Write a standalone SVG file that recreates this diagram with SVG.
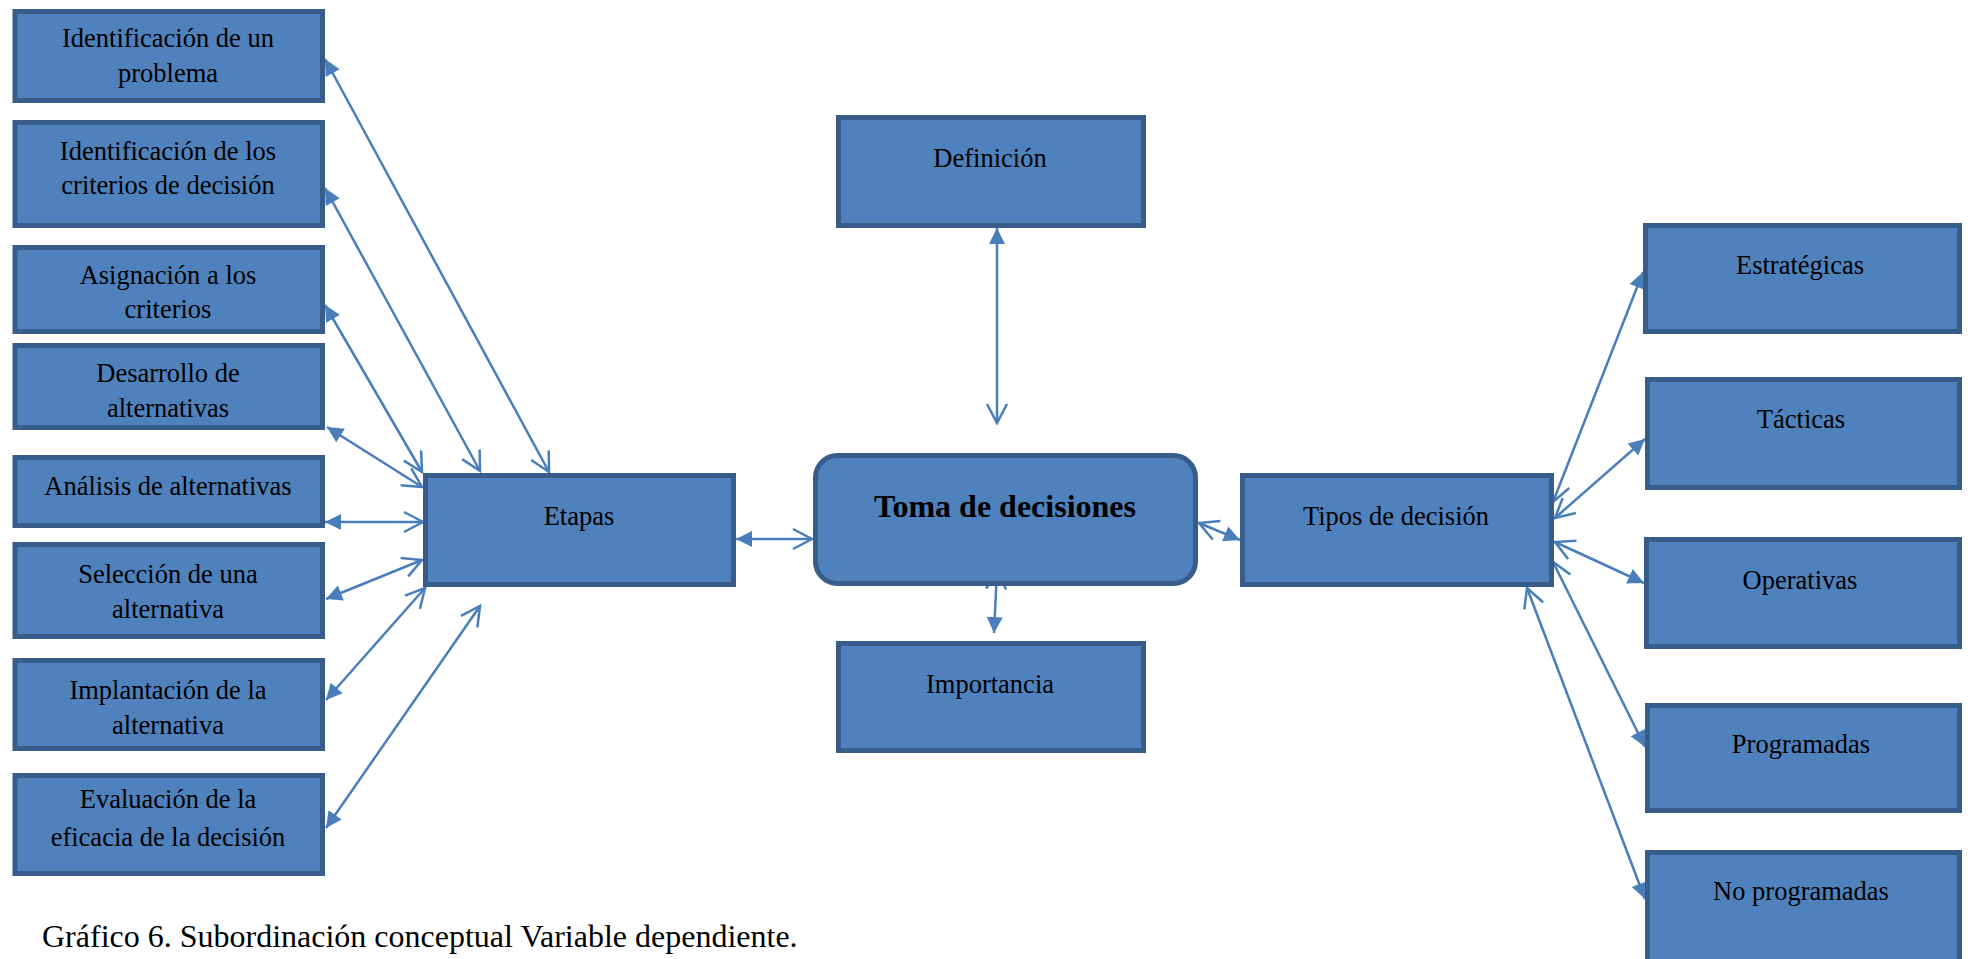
<svg xmlns="http://www.w3.org/2000/svg" width="1968" height="959" viewBox="0 0 1968 959">
<style>
.box{fill:#4F81BD;stroke:#385D8A;stroke-width:5}
text{font-family:"Liberation Serif","Times New Roman","DejaVu Serif",serif;fill:#000}
.t{font-size:26.5px;text-anchor:middle}
.tb{font-size:32px;font-weight:bold;text-anchor:middle}
.cap{font-size:32px}
.c{fill:none;stroke:#4A7EBB;stroke-width:2.5;marker-start:url(#fs);marker-end:url(#oe)}
</style>
<defs>
<marker id="fs" markerUnits="userSpaceOnUse" orient="auto" refX="0" refY="0" markerWidth="40" markerHeight="40" viewBox="-20 -20 40 40" overflow="visible">
<path d="M0,0 L16,-8 L16,8 Z" fill="#4A7EBB"/>
</marker>
<marker id="oe" markerUnits="userSpaceOnUse" orient="auto" refX="0" refY="0" markerWidth="40" markerHeight="40" viewBox="-20 -20 40 40" overflow="visible">
<path d="M-19,-10 L0,0 L-19,10" fill="none" stroke="#4A7EBB" stroke-width="2.5"/>
</marker>
</defs>
<rect width="1968" height="959" fill="#fff"/>
<g id="connectors">
<line class="c" x1="325" y1="59" x2="549" y2="472"/>
<line class="c" x1="325" y1="188" x2="480" y2="471"/>
<line class="c" x1="325" y1="305" x2="422" y2="472"/>
<line class="c" x1="327" y1="427" x2="422" y2="487"/>
<line class="c" x1="325" y1="522" x2="423" y2="522"/>
<line class="c" x1="326" y1="599" x2="422" y2="560"/>
<line class="c" x1="326" y1="700" x2="425" y2="588"/>
<line class="c" x1="326" y1="828" x2="480" y2="606"/>
<line class="c" x1="736" y1="539" x2="812" y2="539"/>
<line class="c" x1="997" y1="228" x2="997" y2="423"/>
<line class="c" x1="994" y1="633" x2="997" y2="570"/>
<line class="c" x1="1240" y1="540" x2="1199" y2="523"/>
<line class="c" x1="1643" y1="272" x2="1553" y2="502"/>
<line class="c" x1="1645" y1="439" x2="1555" y2="518"/>
<line class="c" x1="1644" y1="583" x2="1555" y2="542"/>
<line class="c" x1="1645" y1="747" x2="1553" y2="562"/>
<line class="c" x1="1645" y1="899" x2="1527" y2="588"/>
</g>
<g id="n1"><rect class="box" x="15" y="11.5" width="307.5" height="89"/><text class="t" x="168" y="47">Identificación de un</text><text class="t" x="168" y="82">problema</text></g>
<g id="n2"><rect class="box" x="15" y="122.5" width="307.5" height="103"/><text class="t" x="168" y="160">Identificación de los</text><text class="t" x="168" y="194">criterios de decisión</text></g>
<g id="n3"><rect class="box" x="15" y="247.5" width="307.5" height="84"/><text class="t" x="168" y="284">Asignación a los</text><text class="t" x="168" y="318">criterios</text></g>
<g id="n4"><rect class="box" x="15" y="345.5" width="307.5" height="82"/><text class="t" x="168" y="382">Desarrollo de</text><text class="t" x="168" y="417">alternativas</text></g>
<g id="n5"><rect class="box" x="15" y="457.5" width="307.5" height="68"/><text class="t" x="168" y="495">Análisis de alternativas</text></g>
<g id="n6"><rect class="box" x="15" y="544.5" width="307.5" height="92"/><text class="t" x="168" y="583">Selección de una</text><text class="t" x="168" y="618">alternativa</text></g>
<g id="n7"><rect class="box" x="15" y="660.5" width="307.5" height="88"/><text class="t" x="168" y="699">Implantación de la</text><text class="t" x="168" y="734">alternativa</text></g>
<g id="n8"><rect class="box" x="15" y="775.5" width="307.5" height="98"/><text class="t" x="168" y="808">Evaluación de la</text><text class="t" x="168" y="846">eficacia de la decisión</text></g>
<g id="etapas"><rect class="box" x="425.5" y="475.5" width="308" height="109"/><text class="t" x="579" y="525">Etapas</text></g>
<g id="definicion"><rect class="box" x="838.5" y="117.5" width="305" height="108"/><text class="t" x="990" y="167">Definición</text></g>
<g id="toma"><rect class="box" x="815.5" y="455.5" width="380" height="128" rx="22"/><text class="tb" x="1005" y="517">Toma de decisiones</text></g>
<g id="importancia"><rect class="box" x="838.5" y="643.5" width="305" height="107"/><text class="t" x="990" y="693">Importancia</text></g>
<g id="tipos"><rect class="box" x="1242.5" y="475.5" width="309" height="109"/><text class="t" x="1396" y="525">Tipos de decisión</text></g>
<g id="estrategicas"><rect class="box" x="1645.5" y="225.5" width="314" height="106"/><text class="t" x="1800" y="274">Estratégicas</text></g>
<g id="tacticas"><rect class="box" x="1647.5" y="379.5" width="312" height="108"/><text class="t" x="1801" y="428">Tácticas</text></g>
<g id="operativas"><rect class="box" x="1646.5" y="539.5" width="313" height="107"/><text class="t" x="1800" y="589">Operativas</text></g>
<g id="programadas"><rect class="box" x="1647.5" y="705.5" width="312" height="105"/><text class="t" x="1801" y="753">Programadas</text></g>
<g id="noprogramadas"><rect class="box" x="1647.5" y="852.5" width="312" height="120"/><text class="t" x="1801" y="900">No programadas</text></g>
<text class="cap" x="42" y="947">Gráfico 6. Subordinación conceptual Variable dependiente.</text>
</svg>
